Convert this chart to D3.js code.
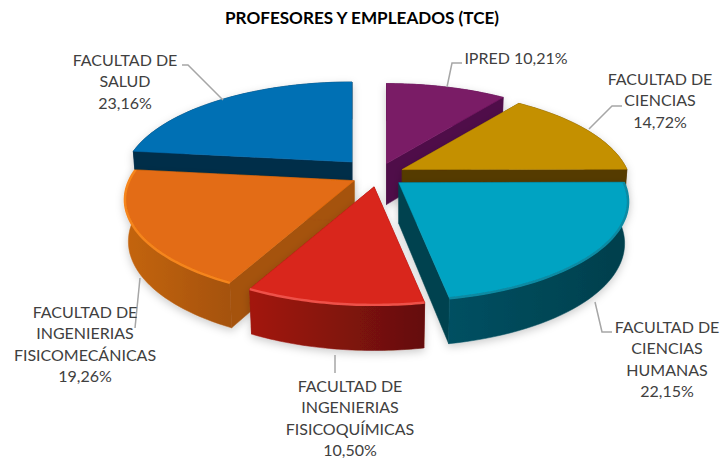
<!DOCTYPE html>
<html><head><meta charset="utf-8">
<script src="https://cdn.jsdelivr.net/npm/d3@7"></script>
<style>html,body{margin:0;padding:0;background:#fff}svg{display:block}</style>
</head><body><script>
const titleText = "PROFESORES Y EMPLEADOS (TCE)";
const categories = ["IPRED","FACULTAD DE CIENCIAS","FACULTAD DE CIENCIAS HUMANAS","FACULTAD DE INGENIERIAS FISICOQUÍMICAS","FACULTAD DE INGENIERIAS FISICOMECÁNICAS","FACULTAD DE SALUD"];
const values = [10.21,14.72,22.15,10.50,19.26,23.16];
const valueLabels = ["10,21%","14,72%","22,15%","10,50%","19,26%","23,16%"];

const topColors  = ["#7a1a66","#c49000","#00a3c2","#d9251c","#e36c12","#0070b4"];
const faceColors = ["#4f0f48","#553a00","#00434f","#8a1510","#a5520c","#002d4a"];
const wallLeft   = ["#4f0f48","#553a00","#005062","#a3170f","#c4650f","#002d4a"];
const wallRight  = ["#4f0f48","#553a00","#003f4c","#640f08","#a5520c","#002d4a"];
const rimColors  = [null,null,"#0b8aa3","#ee5148","#f5851f",null];
const explodeFactor = [1,1,1,1,1,1.45];
const drawOrder = [5,0,1,2,4,3];

const labelLines = [
  ["IPRED 10,21%"],
  ["FACULTAD DE","CIENCIAS","14,72%"],
  ["FACULTAD DE","CIENCIAS","HUMANAS","22,15%"],
  ["FACULTAD DE","INGENIERIAS","FISICOQUÍMICAS","10,50%"],
  ["FACULTAD DE","INGENIERIAS","FISICOMECÁNICAS","19,26%"],
  ["FACULTAD DE","SALUD","23,16%"]
];
const labelAnchor = [[516,58],[660,79],[667,327],[350,386],[85,312],[125,60]];
const leaders = [
  [[462,63],[452,63],[447,87]],
  [[622,106],[612,106],[589,129]],
  [[612,332],[602,332],[595,302]],
  [[335,373],[335,355]],
  [[135,328],[140,278]],
  [[182,65],[188,65],[223,100]]
];

const W=723,H=460, cx=378, cy=175, R=225, K=95.4, P=0.192, EX=27, EY=12, DEPTH=41;
const svg=d3.select("body").append("svg").attr("width",W).attr("height",H).style("font-family","Lato, sans-serif");
const defs=svg.append("defs");
const f=defs.append("filter").attr("id","sh").attr("x","-20%").attr("y","-20%").attr("width","140%").attr("height","140%");
f.append("feDropShadow").attr("dx",0).attr("dy",3).attr("stdDeviation",4).attr("flood-color","#000").attr("flood-opacity",0.2);
defs.append("filter").attr("id","soft").attr("x","-5%").attr("y","-5%").attr("width","110%").attr("height","110%")
  .append("feGaussianBlur").attr("stdDeviation",0.7);

svg.append("text").attr("x",362).attr("y",24).attr("text-anchor","middle").attr("font-size",17.1).attr("font-weight",700).attr("fill","#000").text(titleText);

const arcs=d3.pie().sort(null).startAngle(0).endAngle(2*Math.PI)(values);
const project=(t,ax,ay,drop)=>{
  const u=Math.sin(t), v=-Math.cos(t), s=1/(1-P*v);
  return drop ? [ax+0.985*R*u*s, ay+K*v*s+DEPTH/(1-0.1*v)] : [ax+R*u*s, ay+K*v*s];
};
const line=d3.line();
const G=svg.append("g");
drawOrder.forEach(i=>{
  const a=arcs[i], mid=(a.startAngle+a.endAngle)/2;
  const ax=cx+EX*explodeFactor[i]*Math.sin(mid), ay=cy-EY*explodeFactor[i]*Math.cos(mid);
  const ts=d3.range(0,41).map(k=>a.startAngle+(a.endAngle-a.startAngle)*k/40);
  const top=ts.map(t=>project(t,ax,ay,false)), bot=ts.map(t=>project(t,ax,ay,true));
  const apexT=[ax,ay], apexB=[ax,ay+DEPTH];
  const xs=top.map(d=>d[0]);
  const gid="wall"+i;
  const gr=defs.append("linearGradient").attr("id",gid).attr("gradientUnits","userSpaceOnUse")
    .attr("x1",d3.min(xs)).attr("x2",d3.max(xs)).attr("y1",0).attr("y2",0);
  gr.append("stop").attr("offset",0).attr("stop-color",wallLeft[i]);
  gr.append("stop").attr("offset",1).attr("stop-color",wallRight[i]);
  const g=G.append("g").attr("filter","url(#sh)");
  const poly=(pts,fill)=>g.append("path").attr("d",line(pts)+"Z").attr("fill",fill).attr("stroke",fill).attr("stroke-width",0.5);
  poly([apexT,top[0],bot[0],apexB],faceColors[i]);
  poly([apexT,top[40],bot[40],apexB],faceColors[i]);
  poly(top.concat(bot.slice().reverse()),`url(#${gid})`);
  poly([apexT].concat(top),topColors[i]);
  if(rimColors[i]) g.append("path").attr("d",line(top)).attr("fill","none").attr("stroke",rimColors[i]).attr("stroke-width",2.5).attr("filter","url(#soft)");
});

leaders.forEach(p=>svg.append("path").attr("d",line(p)).attr("fill","none").attr("stroke","#a6a6a6").attr("stroke-width",1.5));
labelLines.forEach((ls,i)=>{
  ls.forEach((s,j)=>svg.append("text").attr("x",labelAnchor[i][0]).attr("y",labelAnchor[i][1]+j*21.6+5.5)
    .attr("text-anchor","middle").attr("font-size",16).attr("fill","#404040").text(s));
});
</script></body></html>
